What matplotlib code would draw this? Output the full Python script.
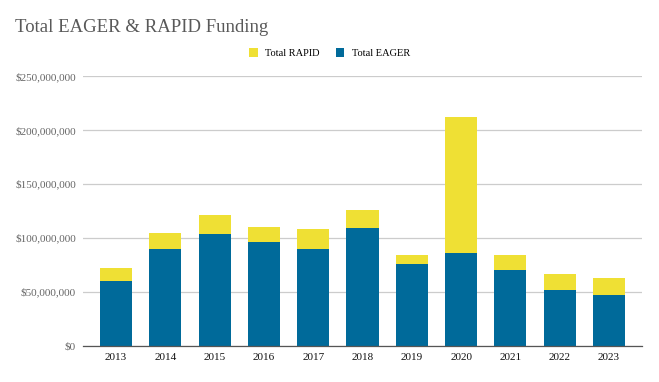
import matplotlib.pyplot as plt
import numpy as np
from matplotlib.ticker import FuncFormatter

years = ["2013", "2014", "2015", "2016", "2017", "2018", "2019", "2020", "2021", "2022", "2023"]
eager = [60.3, 89.6, 103.8, 96.1, 89.6, 109.4, 75.4, 86.2, 70.5, 51.9, 47.0]  # $M
total = [71.7, 104.4, 121.1, 109.7, 107.8, 125.5, 84.4, 212.0, 84.4, 66.1, 62.4]  # $M
rapid = [t - e for t, e in zip(total, eager)]

yellow = "#efe034"
blue = "#006a9a"

plt.rcParams['font.family'] = ['Liberation Serif', 'DejaVu Serif']

fig = plt.figure(figsize=(6.59, 3.82), dpi=100)
ax = fig.add_axes([83 / 659, 1 - 345.7 / 382, 559 / 659, 269.7 / 382])

x = np.arange(len(years))
e = np.array(eager) * 1e6
r = np.array(rapid) * 1e6
ax.bar(x, e, width=0.65, color=blue, label="Total EAGER", zorder=3)
ax.bar(x, r, bottom=e, width=0.65, color=yellow, label="Total RAPID", zorder=3)

ax.set_xlim(-0.67, len(years) - 1 + 0.67)
ax.set_ylim(0, 250e6)
ax.set_yticks(np.arange(0, 250e6 + 1, 50e6))
ax.yaxis.set_major_formatter(FuncFormatter(lambda v, p: "${:,.0f}".format(v)))
ax.set_xticks(x)
ax.set_xticklabels(years)
ax.tick_params(axis='y', length=0, labelsize=8, labelcolor="#666666", pad=5)
ax.tick_params(axis='x', length=0, labelsize=8, labelcolor="#111111", pad=5)
ax.grid(axis='y', color="#cccccc", linewidth=0.9, zorder=0)
for s in ["top", "right", "left"]:
    ax.spines[s].set_visible(False)
ax.spines["bottom"].set_color("#555555")
ax.spines["bottom"].set_linewidth(0.9)
ax.spines["bottom"].set_zorder(4)

fig.text(15 / 659, 1 - 27 / 382, "Total EAGER & RAPID Funding", fontsize=13.5,
         color="#595959", va="center", ha="left")

handles, labels = ax.get_legend_handles_labels()
fig.legend(handles[::-1], labels[::-1], loc="center", bbox_to_anchor=(0.5, 1 - 53 / 382),
           ncol=2, frameon=False, fontsize=7.5, handlelength=0.8, handleheight=1.0,
           handletextpad=0.7, columnspacing=1.6)

fig.savefig("out.png", dpi=100)
